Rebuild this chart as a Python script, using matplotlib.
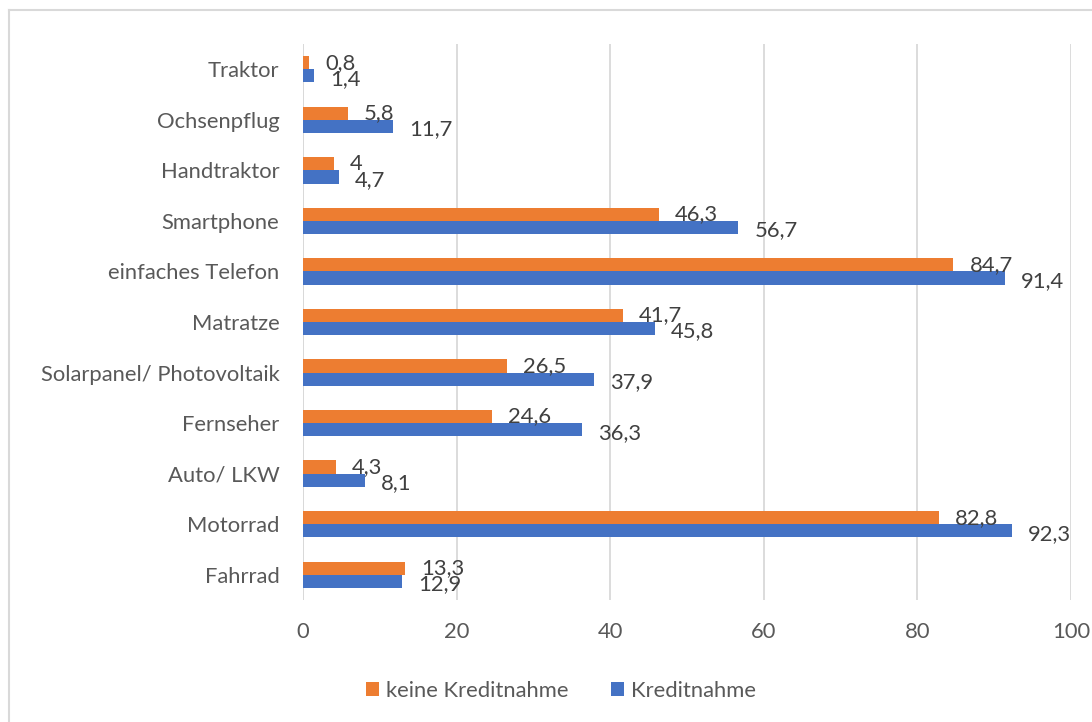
import matplotlib
matplotlib.use("Agg")
import matplotlib.pyplot as plt
from matplotlib.lines import Line2D
import numpy as np

categories = ["Traktor", "Ochsenpflug", "Handtraktor", "Smartphone", "einfaches Telefon",
              "Matratze", "Solarpanel/ Photovoltaik", "Fernseher", "Auto/ LKW", "Motorrad", "Fahrrad"]
keine_kredit = [0.8, 5.8, 4.0, 46.3, 84.7, 41.7, 26.5, 24.6, 4.3, 82.8, 13.3]
kredit = [1.4, 11.7, 4.7, 56.7, 91.4, 45.8, 37.9, 36.3, 8.1, 92.3, 12.9]
xticks = [0, 20, 40, 60, 80, 100]

ORANGE = "#ED7D31"
BLUE = "#4472C4"
GRID = "#D9D9D9"
TXT = "#595959"

plt.rcParams['font.family'] = ['Lato', 'DejaVu Sans']

W, H = 1092, 722
fig = plt.figure(figsize=(W / 100, H / 100), dpi=100)
ax = fig.add_axes([303 / W, (H - 600) / H, (1071 - 303) / W, (600 - 44) / H])

n = len(categories)
y = np.arange(n)[::-1]
bh = 0.26
ax.barh(y + bh / 2, keine_kredit, height=bh, color=ORANGE, label="keine Kreditnahme", zorder=3)
ax.barh(y - bh / 2, kredit, height=bh, color=BLUE, label="Kreditnahme", zorder=3)

def fmt(v):
    s = ("%.1f" % v).replace(".", ",")
    if s.endswith(",0"):
        s = s[:-2]
    return s

fs = 15.8
for yi, v in zip(y, keine_kredit):
    ax.annotate(fmt(v), (v, yi + bh / 2), xytext=(16, 0), textcoords="offset pixels",
                ha="left", va="center", fontsize=fs, color="#404040", zorder=4)
for yi, v in zip(y, kredit):
    ax.annotate(fmt(v), (v, yi - bh / 2), xytext=(16, -3), textcoords="offset pixels",
                ha="left", va="center", fontsize=fs, color="#404040", zorder=4)

ax.set_xlim(0, 100)
ax.set_ylim(-0.5, n - 0.5)
ax.set_xticks(xticks)
ax.set_xticklabels([str(t) for t in xticks])
ax.set_yticks(y)
ax.set_yticklabels(categories)
ax.tick_params(axis="both", length=0, labelsize=fs, labelcolor=TXT)
ax.tick_params(axis="x", pad=16)
ax.tick_params(axis="y", pad=17)
ax.grid(axis="x", color=GRID, linewidth=1.3, zorder=0)
for s in ax.spines.values():
    s.set_visible(False)
ax.axvline(0, color=GRID, linewidth=1.3, zorder=2)

leg = fig.legend(loc="center", bbox_to_anchor=(561 / W, (H - 691) / H), ncol=2, frameon=False,
                 fontsize=fs, handlelength=0.6, handleheight=0.6, handletextpad=0.35,
                 columnspacing=1.9)
for t in leg.get_texts():
    t.set_color(TXT)

# outer frame lines
fig.add_artist(Line2D([9 / W, 9 / W], [0, (H - 10) / H], color=GRID, linewidth=1.5, transform=fig.transFigure))
fig.add_artist(Line2D([9 / W, 1], [(H - 10) / H, (H - 10) / H], color=GRID, linewidth=1.5, transform=fig.transFigure))

fig.savefig("out.png", dpi=100)
